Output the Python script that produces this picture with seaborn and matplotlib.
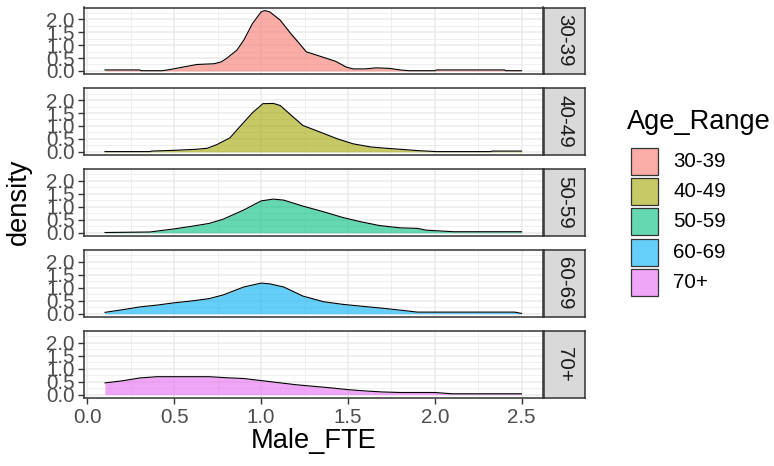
import matplotlib
matplotlib.use("Agg")
import matplotlib.pyplot as plt
import pandas as pd
import seaborn as sns
from matplotlib.patches import Rectangle

# Density curves of Male_FTE by age range
age_ranges = ["30-39", "40-49", "50-59", "60-69", "70+"]
fill_colors = ["#F8766D", "#A3A500", "#00BF7D", "#00B0F6", "#E76BF3"]

fte_30 = [0.10, 0.30, 0.31, 0.43, 0.48, 0.55, 0.63, 0.73, 0.77, 0.80, 0.86, 0.90, 0.95,
          1.00, 1.02, 1.05, 1.11, 1.17, 1.22, 1.26, 1.32, 1.43, 1.49, 1.53, 1.60,
          1.66, 1.74, 1.80, 1.85, 2.00, 2.01, 2.40, 2.41, 2.50]
dens_30 = [0.04, 0.04, 0.01, 0.01, 0.06, 0.15, 0.25, 0.28, 0.35, 0.48, 0.80, 1.19, 1.83,
           2.28, 2.33, 2.28, 1.96, 1.45, 1.06, 0.74, 0.61, 0.37, 0.15, 0.08, 0.08,
           0.12, 0.10, 0.04, 0.01, 0.01, 0.04, 0.04, 0.01, 0.01]

fte_40 = [0.10, 0.36, 0.37, 0.50, 0.63, 0.69, 0.745, 0.82, 0.88, 0.95, 1.01, 1.07, 1.11,
          1.14, 1.24, 1.36, 1.44, 1.53, 1.63, 1.72, 1.82, 1.90, 2.01, 2.32, 2.33, 2.50]
dens_40 = [0.01, 0.01, 0.03, 0.06, 0.10, 0.14, 0.28, 0.54, 0.99, 1.51, 1.86, 1.87, 1.79,
           1.61, 1.02, 0.71, 0.50, 0.31, 0.19, 0.14, 0.09, 0.05, 0.01, 0.01, 0.03, 0.03]

fte_50 = [0.10, 0.36, 0.50, 0.60, 0.70, 0.78, 0.90, 1.00, 1.07, 1.13, 1.24, 1.36, 1.47,
          1.57, 1.68, 1.80, 1.90, 1.95, 2.11, 2.50]
dens_50 = [0.01, 0.03, 0.15, 0.25, 0.36, 0.52, 0.88, 1.23, 1.30, 1.26, 1.03, 0.81, 0.59,
           0.43, 0.28, 0.19, 0.17, 0.10, 0.04, 0.04]

fte_60 = [0.10, 0.20, 0.30, 0.40, 0.50, 0.60, 0.70, 0.78, 0.90, 1.00, 1.05, 1.13, 1.24,
          1.36, 1.47, 1.59, 1.70, 1.81, 1.90, 2.46, 2.50]
dens_60 = [0.05, 0.15, 0.26, 0.33, 0.42, 0.49, 0.58, 0.72, 1.03, 1.18, 1.15, 1.03, 0.68,
           0.46, 0.36, 0.28, 0.21, 0.13, 0.06, 0.06, 0.01]

fte_70 = [0.10, 0.20, 0.30, 0.40, 0.50, 0.60, 0.70, 0.80, 0.90, 1.00, 1.10, 1.20, 1.30,
          1.40, 1.50, 1.60, 1.70, 1.80, 1.90, 2.00, 2.10, 2.50]
dens_70 = [0.45, 0.53, 0.64, 0.69, 0.69, 0.69, 0.69, 0.65, 0.62, 0.54, 0.46, 0.38, 0.32,
           0.26, 0.19, 0.14, 0.10, 0.08, 0.08, 0.08, 0.03, 0.03]

x_ticks = [0.0, 0.5, 1.0, 1.5, 2.0, 2.5]
x_tick_labels = ["0.0", "0.5", "1.0", "1.5", "2.0", "2.5"]
y_ticks = [0.0, 0.5, 1.0, 1.5, 2.0]
y_tick_labels = ["0.0", "0.5", "1.0", "1.5", "2.0"]

frames = []
for label, xs, ys in zip(age_ranges,
                         [fte_30, fte_40, fte_50, fte_60, fte_70],
                         [dens_30, dens_40, dens_50, dens_60, dens_70]):
    frames.append(pd.DataFrame({"Male_FTE": xs, "density": ys, "Age_Range": label}))
df = pd.concat(frames, ignore_index=True)

sns.set_theme(style="white")
plt.rcParams["font.family"] = ["Liberation Sans", "DejaVu Sans"]

W, H = 774, 466
fig = plt.figure(figsize=(W / 100, H / 100), dpi=100)


def px_axes(x0, y0, x1, y1):
    return fig.add_axes([x0 / W, 1 - y1 / H, (x1 - x0) / W, (y1 - y0) / H])


panel_left, panel_right = 84, 542.5
strip_left, strip_right = 544, 585
panel_h = 66.5
panel_step = 80.9
xlim = (-0.02, 2.62)
ylim = (-0.117, 2.45)
tick_color = "#4D4D4D"
border_color = "#333333"
grid_color = "#EBEBEB"
small_size = 14.8
title_size = 19.6

for i, (label, color) in enumerate(zip(age_ranges, fill_colors)):
    top = 7.5 + panel_step * i
    ax = px_axes(panel_left, top, panel_right, top + panel_h)
    sub = df[df["Age_Range"] == label]

    ax.fill_between(sub["Male_FTE"], 0, sub["density"], color=color, alpha=0.6,
                    linewidth=0, zorder=2)
    sns.lineplot(data=sub, x="Male_FTE", y="density", ax=ax, color="black",
                 linewidth=0.8, sort=False, estimator=None, zorder=3)

    ax.set_xlim(*xlim)
    ax.set_ylim(*ylim)
    ax.set_xticks(x_ticks)
    ax.set_xticks([0.25, 0.75, 1.25, 1.75, 2.25], minor=True)
    ax.set_yticks(y_ticks)
    ax.set_yticks([0.25, 0.75, 1.25, 1.75, 2.25], minor=True)
    ax.grid(True, which="major", color=grid_color, linewidth=1.1, zorder=0)
    ax.grid(True, which="minor", color=grid_color, linewidth=0.55, zorder=0)
    ax.set_axisbelow(True)
    for sp in ax.spines.values():
        sp.set_color(border_color)
        sp.set_linewidth(1.1)
    ax.set_yticklabels(y_tick_labels)
    ax.tick_params(axis="y", which="major", left=True, length=4.5, width=1.0,
                   color=border_color, labelsize=small_size, labelcolor=tick_color, pad=2)
    ax.tick_params(which="minor", length=0)
    if i < len(age_ranges) - 1:
        ax.tick_params(axis="x", which="major", bottom=False, labelbottom=False)
    else:
        ax.set_xticklabels(x_tick_labels)
        ax.tick_params(axis="x", which="major", bottom=True, length=4.5, width=1.0,
                       color=border_color, labelsize=small_size, labelcolor=tick_color,
                       pad=3)
    ax.set_xlabel("")
    ax.set_ylabel("")

    # facet strip on the right
    sax = px_axes(strip_left, top, strip_right, top + panel_h)
    sax.set_facecolor("#D9D9D9")
    sax.set_xticks([])
    sax.set_yticks([])
    for sp in sax.spines.values():
        sp.set_color(border_color)
        sp.set_linewidth(1.1)
    sax.text(0.5, 0.5, label, rotation=-90, ha="center", va="center",
             fontsize=small_size, color="#1A1A1A", transform=sax.transAxes)

fig.text(panel_left / W + (panel_right - panel_left) / W / 2, 1 - 441 / H, "Male_FTE",
         ha="center", va="center", fontsize=title_size, color="black")
fig.text(19 / W, 1 - 202 / H, "density", ha="center", va="center", rotation=90,
         fontsize=title_size, color="black")

# legend
fig.text(627 / W, 1 - 122 / H, "Age_Range", ha="left", va="center", fontsize=title_size,
         color="black")
lax = fig.add_axes([0, 0, 1, 1], facecolor="none")
lax.set_xlim(0, W)
lax.set_ylim(H, 0)
lax.axis("off")
for j, (label, color) in enumerate(zip(age_ranges, fill_colors)):
    y0 = 148 + 30.2 * j
    lax.add_patch(Rectangle((631, y0), 27, 27, facecolor=color, alpha=0.6,
                            edgecolor="none"))
    lax.add_patch(Rectangle((631, y0), 27, 27, facecolor="none",
                            edgecolor="#333333", linewidth=0.9))
    lax.text(673, y0 + 13.5, label, ha="left", va="center", fontsize=small_size,
             color="black")

fig.savefig("out.png", dpi=100)
